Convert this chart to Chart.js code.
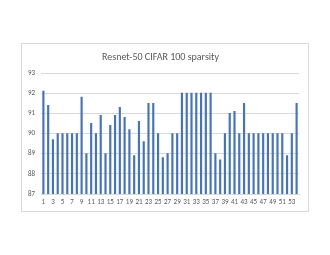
<!DOCTYPE html>
<html>
<head>
<meta charset="utf-8">
<script src="https://cdn.jsdelivr.net/npm/chart.js@4"></script>
<style>
  html, body { margin: 0; padding: 0; background: #fff; }
  body { width: 330px; height: 255px; position: relative; }
  #box { position: absolute; left: 21px; top: 43px; width: 286px; height: 167px; border: 1px solid #d9d9d9; }
  #chart { display: block; }
</style>
</head>
<body>
<div id="box"><canvas id="chart" width="286" height="167"></canvas></div>
<script>
// Resnet-50 CIFAR 100 sparsity
const layers = [];
for (let i = 1; i <= 54; i++) layers.push(String(i));

const accuracy = [
  92.1, 91.4, 89.7, 90, 90, 90, 90, 90, 91.8, 89,
  90.5, 90, 90.9, 89, 90.4, 90.9, 91.3, 90.8, 90.2, 88.9,
  90.6, 89.6, 91.5, 91.5, 90, 88.8, 89, 90, 90, 92,
  92, 92, 92, 92, 92, 92, 89, 88.7, 90, 91,
  91.1, 90, 91.5, 90, 90, 90, 90, 90, 90, 90,
  90, 88.9, 90, 91.5
];

const yMin = 87;
const yMax = 93;

const ctx = document.getElementById('chart').getContext('2d');
new Chart(ctx, {
  type: 'bar',
  data: {
    labels: layers,
    datasets: [{
      data: accuracy,
      backgroundColor: '#4472c4',
      barThickness: 1.5
    }]
  },
  options: {
    responsive: false,
    animation: false,
    layout: { padding: { left: 0, right: 9, top: 0, bottom: 0 } },
    plugins: {
      legend: { display: false },
      tooltip: { enabled: false },
      title: {
        display: true,
        text: 'Resnet-50 CIFAR 100 sparsity',
        color: '#595959',
        font: { family: 'Carlito, Calibri, "Liberation Sans", sans-serif', size: 10, weight: 'normal' },
        padding: { top: 7, bottom: 10 }
      }
    },
    scales: {
      x: {
        afterFit: (s) => { s.height = 17; },
        grid: { display: false, drawTicks: false },
        border: { color: '#d9d9d9' },
        ticks: {
          color: '#595959',
          font: { family: 'Carlito, Calibri, "Liberation Sans", sans-serif', size: 7 },
          autoSkip: false,
          maxRotation: 0,
          padding: 4,
          callback: (v, i) => (i % 2 === 0 ? layers[i] : '')
        }
      },
      y: {
        min: yMin,
        max: yMax,
        afterFit: (s) => { s.width = 19; },
        grid: { color: '#d9d9d9', drawTicks: false },
        border: { display: false },
        ticks: {
          stepSize: 1,
          color: '#595959',
          padding: 6,
          font: { family: 'Carlito, Calibri, "Liberation Sans", sans-serif', size: 7 }
        }
      }
    }
  }
});
</script>
</body>
</html>
